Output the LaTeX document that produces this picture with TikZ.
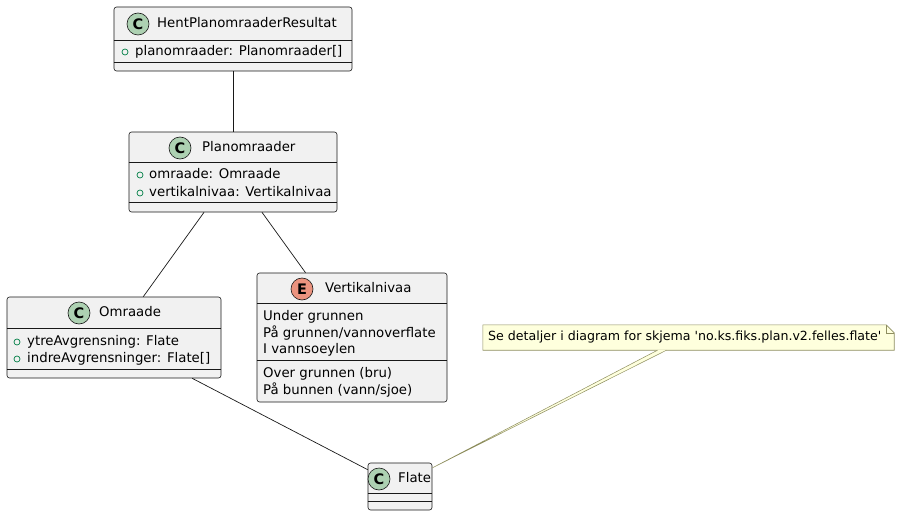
\documentclass[tikz,border=0pt]{standalone}
\usepackage{fontspec}
\setmainfont{DejaVu Sans}
\usepackage{tikz}
\usetikzlibrary{positioning, calc}
\definecolor{boxfill}{HTML}{F1F1F1}
\definecolor{boxline}{HTML}{181818}
\definecolor{classicon}{HTML}{ADD1B2}
\definecolor{enumicon}{HTML}{EB937F}
\definecolor{pubgreen}{HTML}{038048}
\definecolor{notefill}{HTML}{FEFFDD}
\definecolor{noteline}{HTML}{8E8E60}
\tikzstyle{classbox} = [rectangle, rounded corners=2.5pt, draw=boxline, fill=boxfill, line width=0.6pt, inner sep=0pt]
\tikzstyle{classname} = [anchor=west, inner sep=0pt, font=\fontsize{13.3}{16}\selectfont, text height=9.8pt, text depth=2.6pt]
\tikzstyle{member} = [anchor=west, inner sep=0pt, font=\fontsize{13.3}{16}\selectfont, text height=9.8pt, text depth=2.6pt]
\tikzstyle{icon} = [circle, draw=boxline, line width=0.6pt, minimum size=22pt, inner sep=0pt, font=\fontsize{14.5}{14}\selectfont\bfseries]
\tikzstyle{pub} = [circle, draw=pubgreen, line width=0.7pt, minimum size=6pt, inner sep=0pt]
\tikzstyle{link} = [draw=boxline, line width=0.7pt]

\begin{document}
\begin{tikzpicture}[x=1pt, y=-1pt]
\useasboundingbox (0,0) rectangle (901,516);
% class boxes
\node (hent) [classbox, minimum width=238pt, minimum height=64pt] at (233,39) {};
\node (plan) [classbox, minimum width=208pt, minimum height=80pt] at (233,172) {};
\node (omr) [classbox, minimum width=214pt, minimum height=81pt] at (114,337.5) {};
\node (vert) [classbox, minimum width=190pt, minimum height=129pt] at (352,337.5) {};
\node (flate) [classbox, minimum width=64pt, minimum height=47pt] at (400,486.5) {};
\node (note) [rectangle, inner sep=0pt, minimum width=411pt, minimum height=25pt] at (688.5,337.5) {};

% compartment lines
\draw[link, line width=0.6pt] ($(hent.north west)+(0,34)$) -- ($(hent.north east)+(0,34)$);
\draw[link, line width=0.6pt] ($(hent.north west)+(0,56)$) -- ($(hent.north east)+(0,56)$);
\draw[link, line width=0.6pt] ($(plan.north west)+(0,31)$) -- ($(plan.north east)+(0,31)$);
\draw[link, line width=0.6pt] ($(plan.north west)+(0,71)$) -- ($(plan.north east)+(0,71)$);
\draw[link, line width=0.6pt] ($(omr.north west)+(0,32)$) -- ($(omr.north east)+(0,32)$);
\draw[link, line width=0.6pt] ($(omr.north west)+(0,73)$) -- ($(omr.north east)+(0,73)$);
\draw[link, line width=0.6pt] ($(vert.north west)+(0,31)$) -- ($(vert.north east)+(0,31)$);
\draw[link, line width=0.6pt] ($(vert.north west)+(0,88)$) -- ($(vert.north east)+(0,88)$);
\draw[link, line width=0.6pt] ($(flate.north west)+(0,31)$) -- ($(flate.north east)+(0,31)$);
\draw[link, line width=0.6pt] ($(flate.north west)+(0,39)$) -- ($(flate.north east)+(0,39)$);

% headers
\node (henticon) [icon, fill=classicon] at (138,24) {C};
\node (henttitle) [classname] at (157,24) {HentPlanomraaderResultat};
\node (planicon) [icon, fill=classicon] at (180,148) {C};
\node (plantitle) [classname] at (202,148) {Planomraader};
\node (omricon) [icon, fill=classicon] at (79,313) {C};
\node (omrtitle) [classname] at (99,313) {Omraade};
\node (verticon) [icon, fill=enumicon] at (302,289) {E};
\node (verttitle) [classname] at (325,289) {Vertikalnivaa};
\node (flateicon) [icon, fill=classicon] at (379,479) {C};
\node (flatetitle) [classname] at (398,479) {Flate};

% attributes
\node (hentpub) [pub] at (125,52) {};
\node (hentattr) [member] at (135,52) {planomraader: Planomraader[]};
\node (planpuba) [pub] at (140,175) {};
\node (planattra) [member] at (149,175) {omraade: Omraade};
\node (planpubb) [pub] at (140,193) {};
\node (planattrb) [member] at (149,193) {vertikalnivaa: Vertikalnivaa};
\node (omrpuba) [pub] at (17,342) {};
\node (omrattra) [member] at (27,342) {ytreAvgrensning: Flate};
\node (omrpubb) [pub] at (17,359) {};
\node (omrattrb) [member] at (27,359) {indreAvgrensninger: Flate[]};

% enum values
\node (verta) [member] at (263,317) {Under grunnen};
\node (vertb) [member] at (263,333.5) {På grunnen/vannoverflate};
\node (vertc) [member] at (263,350) {I vannsoeylen};
\node (vertd) [member] at (263,374) {Over grunnen (bru)};
\node (verte) [member] at (263,391) {På bunnen (vann/sjoe)};

% note
\draw[fill=notefill, draw=noteline, line width=0.6pt] (note.north west) -- ($(note.north east)+(-8,0)$) -- ($(note.north east)+(0,8)$) -- (note.south east) -- (note.south west) -- cycle;
\draw[draw=noteline, line width=0.6pt] ($(note.north east)+(-8,0)$) -- ($(note.north east)+(-8,8)$) -- ($(note.north east)+(0,8)$);
\node (notetext) [anchor=west, inner sep=0pt, font=\fontsize{12.6}{15}\selectfont, text height=9.3pt, text depth=2.5pt] at (488,337.5) {Se detaljer i diagram for skjema \textquotesingle no.ks.fiks.plan.v2.felles.flate\textquotesingle};
\draw[fill=notefill, draw=noteline, line width=0.5pt] ($(note.south)+(-31,0)$) -- (flate.30) -- ($(note.south)+(-22,0)$);

% connectors
\draw[link] (hent) -- (plan);
\draw[link] (plan) -- (omr);
\draw[link] (plan) -- (vert);
\draw[link] (omr) -- (flate);
\end{tikzpicture}
\end{document}
